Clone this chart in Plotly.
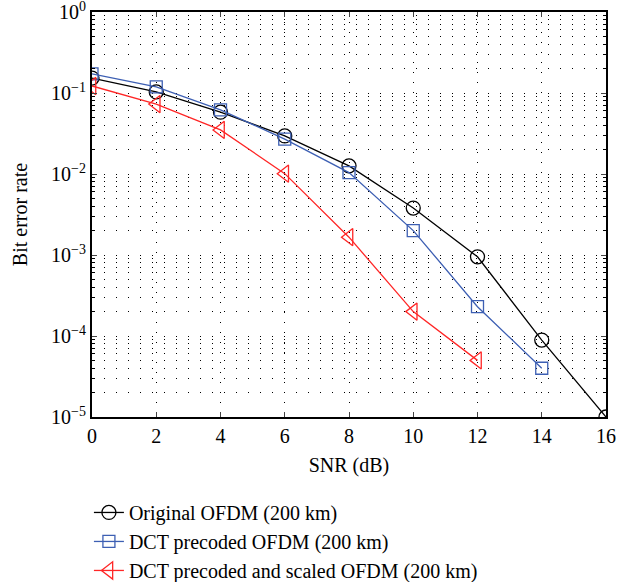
import plotly.graph_objects as go

# SNR points (dB) and measured bit error rates
snr_original = [0, 2, 4, 6, 8, 10, 12, 14, 16]
ber_original = [0.153, 0.103, 0.058, 0.0295, 0.0126, 0.0038, 0.00095, 8.9e-5, 1e-5]

snr_dct = [0, 2, 4, 6, 8, 10, 12, 14]
ber_dct = [0.172, 0.119, 0.062, 0.027, 0.0104, 0.002, 2.3e-4, 4e-5]

snr_scaled = [0, 2, 4, 6, 8, 10, 12]
ber_scaled = [0.122, 0.073, 0.035, 0.0101, 0.00166, 2.0e-4, 5e-5]

series_names = [
    "Original OFDM (200 km)",
    "DCT precoded OFDM (200 km)",
    "DCT precoded and scaled OFDM (200 km)",
]

x_ticks = [0, 2, 4, 6, 8, 10, 12, 14, 16]
y_ticks = [1, 1e-1, 1e-2, 1e-3, 1e-4, 1e-5]
y_tick_text = ["10<sup>0</sup>", "10<sup>\u22121</sup>", "10<sup>\u22122</sup>",
               "10<sup>\u22123</sup>", "10<sup>\u22124</sup>", "10<sup>\u22125</sup>"]

FONT = "Liberation Serif"
DOTS = "1px,11px"

fig = go.Figure()
fig.add_trace(go.Scatter(
    x=snr_original, y=ber_original, name=series_names[0], mode="lines+markers",
    line=dict(color="black", width=1.3),
    marker=dict(symbol="circle-open", size=14, color="black", line=dict(width=1.3)),
))
fig.add_trace(go.Scatter(
    x=snr_dct, y=ber_dct, name=series_names[1], mode="lines+markers",
    line=dict(color="#3d5fb3", width=1.3),
    marker=dict(symbol="square-open", size=12, color="#3d5fb3", line=dict(width=1.3)),
))
fig.add_trace(go.Scatter(
    x=snr_scaled, y=ber_scaled, name=series_names[2], mode="lines+markers",
    line=dict(color="#ff2626", width=1.3),
    marker=dict(symbol="triangle-left-open", size=15, color="#ff2626", line=dict(width=1.3)),
))

fig.update_layout(
    width=632, height=582,
    margin=dict(l=92, r=26, t=12, b=165),
    paper_bgcolor="white", plot_bgcolor="white",
    font=dict(family=FONT, size=20, color="black"),
    showlegend=True,
    legend=dict(xref="paper", yref="container", x=-0.006, y=0.153,
                xanchor="left", yanchor="top",
                bgcolor="rgba(0,0,0,0)", font=dict(family=FONT, size=20),
                tracegroupgap=0, itemwidth=30),
    xaxis=dict(
        range=[0, 16], tickvals=x_ticks, ticks="inside", ticklen=5,
        showline=True, linecolor="black", linewidth=2, mirror="allticks",
        showgrid=True, gridcolor="black", gridwidth=1, griddash="1px,9px",
        zeroline=False, automargin=False, ticklabeloverflow="allow",
        title=dict(text="SNR (dB)", font=dict(family=FONT, size=20), standoff=12),
        tickfont=dict(family=FONT, size=20),
    ),
    yaxis=dict(
        type="log", range=[-5, 0], tickvals=y_ticks, ticktext=y_tick_text,
        ticks="inside", ticklen=5,
        showline=True, linecolor="black", linewidth=2, mirror="allticks",
        showgrid=False, zeroline=False, automargin=False, ticklabeloverflow="allow",
        minor=dict(dtick="D1", ticks="inside", ticklen=3, tickcolor="black",
                   showgrid=True, gridcolor="black", gridwidth=1, griddash=DOTS),
        title=dict(text="Bit error rate", font=dict(family=FONT, size=20), standoff=18),
        tickfont=dict(family=FONT, size=20),
    ),
)

fig.write_html("out.html")
